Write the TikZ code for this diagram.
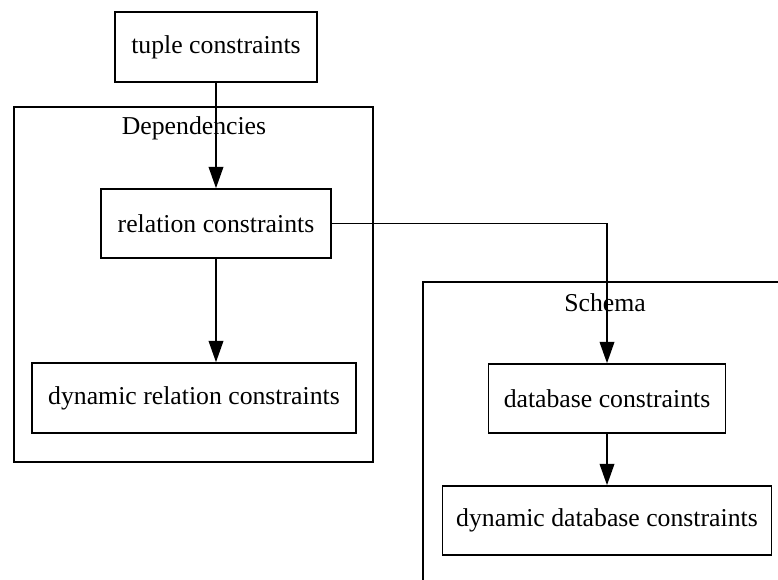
\documentclass[tikz,border=0pt]{standalone}
\usepackage{fontspec}
\setmainfont{Liberation Serif}
\usetikzlibrary{arrows.meta}
\def\px{0.75pt}
\tikzset{
  box/.style={draw, rectangle, line width=1.2pt, inner sep=0pt,
    font=\fontsize{19.3pt}{23pt}\selectfont},
  cluster/.style={draw, line width=1.2pt},
  clabel/.style={inner sep=0pt, font=\fontsize{19.3pt}{23pt}\selectfont},
  edge/.style={line width=1.2pt, -{Triangle[length=16pt, width=11pt]}},
}
\begin{document}
\begin{tikzpicture}[x=\px, y=-\px]
  \clip (0,0) rectangle (778,580);
  \fill[white] (0,0) rectangle (778,580);

  % clusters
  \draw[cluster] (14,107) rectangle (373,462);
  \node[clabel] (deplabel) at (194,128) {Dependencies};
  \draw[cluster] (423,600) -- (423,282) -- (800,282);
  \node[clabel] (schemalabel) at (605,303) {Schema};

  % nodes
  \node[box, minimum width=202*\px, minimum height=70*\px] (tuple) at (216,47) {tuple constraints};
  \node[box, minimum width=230*\px, minimum height=69*\px] (rel) at (216,223.5) {relation constraints};
  \node[box, minimum width=324*\px, minimum height=70*\px] (dynrel) at (194,398) {dynamic relation constraints};
  \node[box, minimum width=237*\px, minimum height=69*\px] (db) at (607,398.5) {database constraints};
  \node[box, minimum width=329*\px, minimum height=69*\px] (dyndb) at (607,520.5) {dynamic database constraints};

  % edges
  \draw[edge] (tuple.south) -- (rel.north);
  \draw[edge] (rel.south) -- (rel.south |- dynrel.north);
  \draw[edge] (rel.east) -| (db.north);
  \draw[edge] (db.south) -- (dyndb.north);
\end{tikzpicture}
\end{document}
